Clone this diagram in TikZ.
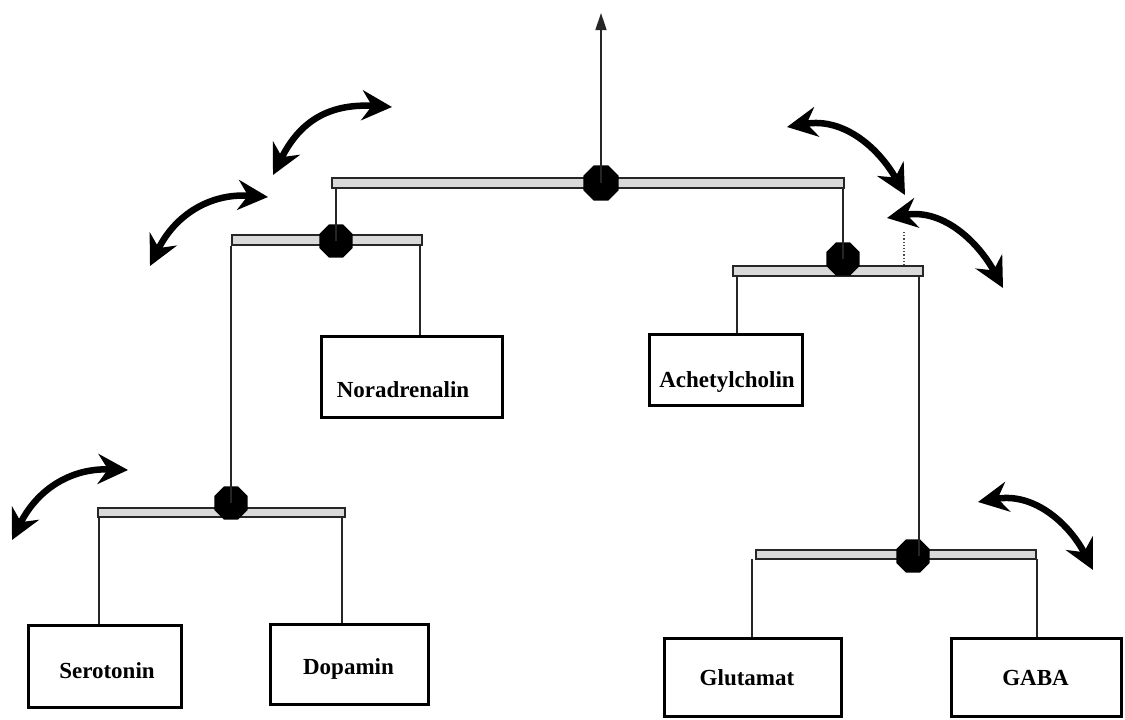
\documentclass[tikz,border=0pt]{standalone}
\usepackage{fontspec}
\setmainfont{Liberation Serif}
\usetikzlibrary{arrows.meta,shapes.geometric}
\begin{document}
\begin{tikzpicture}[x=1pt,y=-1pt,
  bar/.style={draw=black!85, fill=black!15, line width=2pt, inner sep=0pt, outer sep=0pt},
  pivot/.style={regular polygon, regular polygon sides=8, fill=black, inner sep=0pt, minimum size=#1},
  tbox/.style={draw=black, line width=3pt, inner sep=0pt, fill=white},
  lbl/.style={font=\fontsize{23}{25}\selectfont\bfseries, inner sep=0pt},
  stem/.style={line width=1.5pt, draw=black!85},
  swing/.style={line width=6.5pt, line cap=butt,
    {Stealth[length=30pt,width=30pt,inset=10pt]}-{Stealth[length=30pt,width=30pt,inset=10pt]}}
]
\useasboundingbox (0,0) rectangle (1125,720);
% bars
\node[bar, minimum width=512pt, minimum height=10pt] (tb) at (588,182.5) {};
\node[bar, minimum width=190pt, minimum height=10pt] (lb) at (326.5,240) {};
\node[bar, minimum width=247pt, minimum height=9pt] (b3) at (221.5,512.5) {};
\node[bar, minimum width=190pt, minimum height=10pt] (rb) at (827.5,270.5) {};
\node[bar, minimum width=280pt, minimum height=9pt] (bb) at (896,554) {};
% pivots
\node[pivot=38pt] (p1) at (601,183) {};
\node[pivot=36pt] (p2) at (336,241) {};
\node[pivot=36pt] (p3) at (231,503) {};
\node[pivot=36pt] (p4) at (843,259) {};
\node[pivot=36pt] (p5) at (913,556) {};
% boxes
\node[tbox, minimum width=181pt, minimum height=81pt,
  label={[lbl, xshift=-9pt, yshift=-13pt]center:Noradrenalin}] (nor) at (412,376.5) {};
\node[tbox, minimum width=153pt, minimum height=71pt,
  label={[lbl, xshift=1pt, yshift=-12pt]center:Achetylcholin}] (ach) at (726,370) {};
\node[tbox, minimum width=153pt, minimum height=82pt,
  label={[lbl, xshift=2pt, yshift=-4pt]center:Serotonin}] (ser) at (105,666.5) {};
\node[tbox, minimum width=158pt, minimum height=80pt,
  label={[lbl, xshift=-1pt, yshift=-5pt]center:Dopamin}] (dop) at (349.5,664) {};
\node[tbox, minimum width=177pt, minimum height=78pt,
  label={[lbl, xshift=-6pt, yshift=0pt]center:Glutamat}] (glu) at (753,677.5) {};
\node[tbox, minimum width=170pt, minimum height=78pt,
  label={[lbl, xshift=-1pt, yshift=0pt]center:GABA}] (gaba) at (1036.5,677.5) {};
% coordinates
\coordinate (topend) at (601,13);
\coordinate (lbR) at (420,246);
\coordinate (lbL) at (231,246);
\coordinate (b3L) at (99,517);
\coordinate (b3R) at (342,517);
\coordinate (rbL) at (737,277);
\coordinate (rbR) at (919,277);
\coordinate (bbL) at (752,559);
\coordinate (bbR) at (1037,559);
\coordinate (dotA) at (904,232);
% stems
\draw[stem, -{Triangle[length=17pt,width=11pt]}] (p1.center) -- (topend);
\draw[stem] (p2.center) -- (p2.center |- tb.south);
\draw[stem] (p4.center) -- (p4.center |- tb.south);
\draw[stem] (lbR) -- (lbR |- nor.north);
\draw[stem] (lbL) -- (p3.center);
\draw[stem] (b3L) -- (b3L |- ser.north);
\draw[stem] (b3R) -- (b3R |- dop.north);
\draw[stem] (rbL) -- (rbL |- ach.north);
\draw[stem] (rbR) -- (rbR |- p5.center);
\draw[stem] (bbL) -- (bbL |- glu.north);
\draw[stem] (bbR) -- (bbR |- gaba.north);
\draw[line width=1.2pt, black!70, dotted] (dotA) -- (dotA |- rb.north);
% swing arrows
\coordinate (s1a) at (273,175); \coordinate (s1b) at (392,107);
\coordinate (s2a) at (150,266); \coordinate (s2b) at (268,197);
\coordinate (s3a) at (12,540);  \coordinate (s3b) at (128,470);
\coordinate (s4a) at (787,127); \coordinate (s4b) at (905,195);
\coordinate (s5a) at (887,218); \coordinate (s5b) at (1003,288);
\coordinate (s6a) at (978,502); \coordinate (s6b) at (1093,570);
\draw[swing] (s1a) .. controls (298,125) and (325,103) .. (s1b);
\draw[swing] (s2a) .. controls (175,215) and (210,193) .. (s2b);
\draw[swing] (s3a) .. controls (37,490) and (70,468) .. (s3b);
\draw[swing] (s4a) .. controls (845,117) and (880,150) .. (s4b);
\draw[swing] (s5a) .. controls (945,208) and (980,245) .. (s5b);
\draw[swing] (s6a) .. controls (1035,492) and (1070,525) .. (s6b);
\end{tikzpicture}
\end{document}
